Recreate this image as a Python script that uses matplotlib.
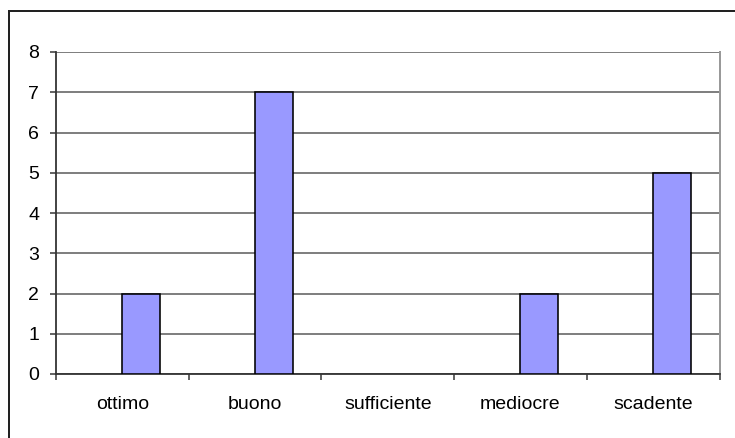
import matplotlib

matplotlib.use("Agg")
import matplotlib.pyplot as plt
from matplotlib.lines import Line2D
import numpy as np

categories = ["ottimo", "buono", "sufficiente", "mediocre", "scadente"]
values = [2, 7, 0, 2, 5]
y_ticks = [0, 1, 2, 3, 4, 5, 6, 7, 8]

PX = 0.72  # points per pixel at dpi 100

plt.rcParams["font.family"] = ["Liberation Sans", "DejaVu Sans"]

fig = plt.figure(figsize=(7.35, 4.38), dpi=100)
ax = fig.add_axes([56 / 735, 1 - 374 / 438, (719.5 - 56) / 735, (374 - 52) / 438])

# Excel-style clustered column: the visible series sits right of the category centre.
# Zero-height columns are not drawn at all.
x = np.arange(len(categories))
vals = np.array(values, dtype=float)
shown = vals > 0
ax.bar(x[shown], vals[shown], width=0.2857, align="edge", color="#9999FF",
       edgecolor="black", linewidth=1.6 * PX, zorder=3)

ax.set_xlim(-0.5, len(categories) - 0.5)
ax.set_ylim(0, 8)
ax.set_yticks(y_ticks)
ax.yaxis.grid(True, color="#808080", linewidth=2 * PX, zorder=0)
ax.set_axisbelow(True)

ax.set_xticks(x)
ax.set_xticklabels(categories)
ax.set_xticks(np.arange(-0.5, len(categories)), minor=True)
ax.tick_params(axis="x", which="major", length=0, pad=16, labelsize=14)
ax.tick_params(axis="x", which="minor", length=6 * PX, width=1.5 * PX,
               color="#333333", direction="out")
ax.tick_params(axis="y", length=6 * PX, width=1.5 * PX, color="#333333",
               pad=11 * PX, labelsize=14)

for side in ["left", "bottom"]:
    ax.spines[side].set_color("#333333")
    ax.spines[side].set_linewidth(1.8 * PX)
ax.spines["top"].set_visible(False)
ax.spines["right"].set_color("#999999")
ax.spines["right"].set_linewidth(2 * PX)

# chart-area border (only top and left edges inside the image)
fx, fy = 8.5 / 735, 1 - 10.5 / 438
fig.add_artist(Line2D([fx, fx], [0, fy], transform=fig.transFigure,
                      color="#222222", linewidth=2 * PX))
fig.add_artist(Line2D([fx, 1], [fy, fy], transform=fig.transFigure,
                      color="#222222", linewidth=2 * PX))

fig.savefig("out.png", dpi=100)
